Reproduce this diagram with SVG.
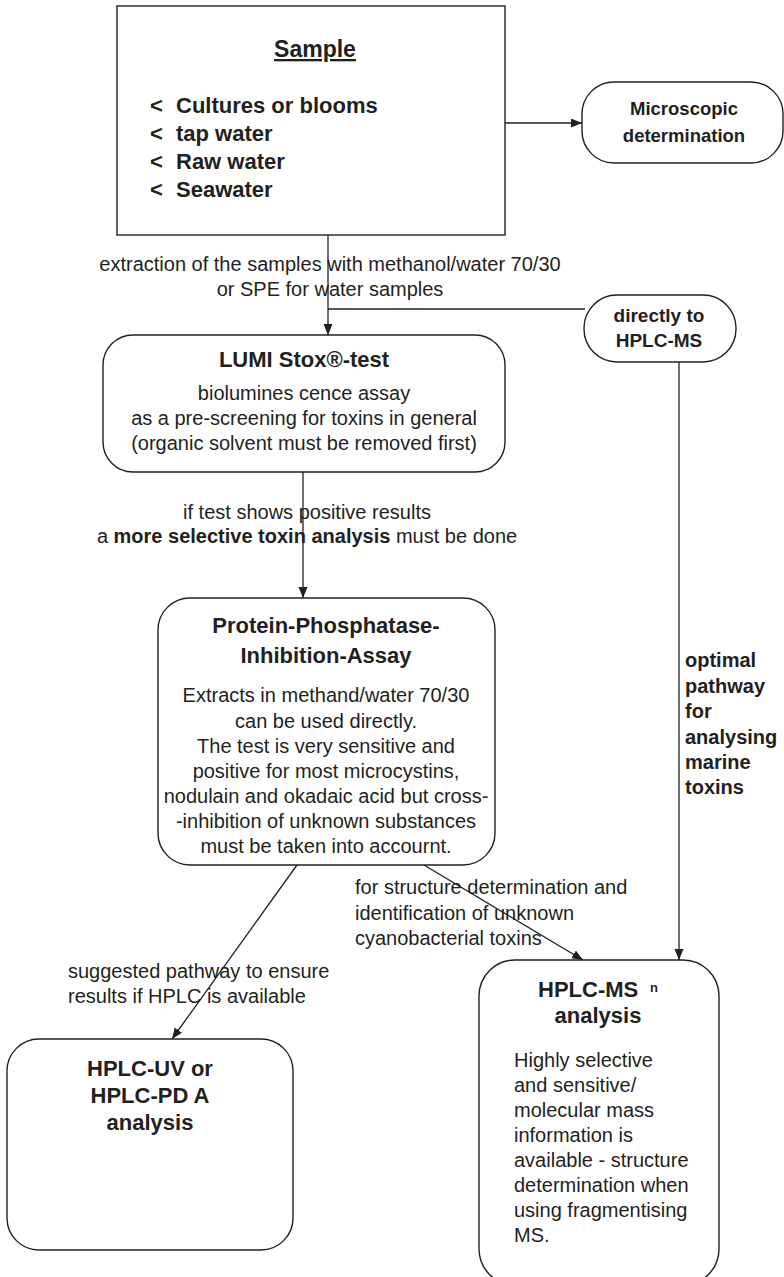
<svg xmlns="http://www.w3.org/2000/svg" width="784" height="1277" viewBox="0 0 784 1277">
  <style>
    .box { fill: #ffffff; stroke: #231f20; stroke-width: 1.4; }
    .link { fill: none; stroke: #231f20; stroke-width: 1.3; }
    text { font-family: "Liberation Sans", Arial, sans-serif; fill: #231f20; }
    .t { font-size: 20px; }
    .b { font-weight: bold; }
    .h { font-size: 22px; font-weight: bold; }
    .mid { text-anchor: middle; }
  </style>
  <defs>
    <marker id="arrow" markerUnits="userSpaceOnUse" markerWidth="12" markerHeight="10" refX="11" refY="4.5" orient="auto">
      <path d="M0,0 L11,4.5 L0,9 z" fill="#231f20"/>
    </marker>
  </defs>

  <rect width="784" height="1277" fill="#ffffff"/>

  <!-- connectors -->
  <g id="connectors">
    <line class="link" x1="505" y1="123" x2="582" y2="123" marker-end="url(#arrow)"/>
    <line class="link" x1="328" y1="235" x2="328" y2="335" marker-end="url(#arrow)"/>
    <line class="link" x1="328" y1="309" x2="585" y2="309"/>
    <line class="link" x1="679" y1="362" x2="679" y2="960" marker-end="url(#arrow)"/>
    <line class="link" x1="303" y1="472" x2="303" y2="598" marker-end="url(#arrow)"/>
    <line class="link" x1="297" y1="865" x2="172" y2="1039" marker-end="url(#arrow)"/>
    <line class="link" x1="424" y1="865" x2="583" y2="960" marker-end="url(#arrow)"/>

    <text class="t mid" x="330" y="271">extraction of the samples with methanol/water 70/30</text>
    <text class="t mid" x="330" y="296">or SPE for water samples</text>

    <text class="t mid" x="307" y="519">if test shows positive results</text>
    <text class="t mid" x="307" y="543">a <tspan class="b">more selective toxin analysis</tspan> must be done</text>

    <text class="t b" x="685" y="667">optimal</text>
    <text class="t b" x="685" y="693">pathway</text>
    <text class="t b" x="685" y="718">for</text>
    <text class="t b" x="685" y="744">analysing</text>
    <text class="t b" x="685" y="769">marine</text>
    <text class="t b" x="685" y="794">toxins</text>

    <text class="t" x="355" y="894">for structure determination and</text>
    <text class="t" x="355" y="920">identification of unknown</text>
    <text class="t" x="355" y="945">cyanobacterial toxins</text>

    <text class="t" x="68" y="978">suggested pathway to ensure</text>
    <text class="t" x="68" y="1003">results if HPLC is available</text>
  </g>

  <!-- sample -->
  <g id="sample">
    <rect class="box" x="117" y="6" width="388" height="229"/>
    <text class="mid b" x="315" y="57" font-size="23" text-decoration="underline">Sample</text>
    <g class="b" font-size="22">
      <text x="150" y="113">&lt;</text><text x="176" y="113">Cultures or blooms</text>
      <text x="150" y="141">&lt;</text><text x="176" y="141">tap water</text>
      <text x="150" y="169">&lt;</text><text x="176" y="169">Raw water</text>
      <text x="150" y="197">&lt;</text><text x="176" y="197">Seawater</text>
    </g>
  </g>

  <!-- microscopic determination -->
  <g id="microscopic">
    <rect class="box" x="582" y="82" width="201" height="81" rx="32" ry="32"/>
    <text class="mid b" x="684" y="115" font-size="18.5">Microscopic</text>
    <text class="mid b" x="684" y="142" font-size="18.5">determination</text>
  </g>

  <!-- directly to HPLC-MS -->
  <g id="direct">
    <rect class="box" x="584" y="295" width="152" height="67" rx="33" ry="33"/>
    <text class="mid b" x="659" y="322" font-size="19">directly to</text>
    <text class="mid b" x="659" y="347" font-size="19">HPLC-MS</text>
  </g>

  <!-- LUMIStox test -->
  <g id="lumistox">
    <rect class="box" x="103" y="335" width="402" height="137" rx="30" ry="30"/>
    <text class="h mid" x="304" y="367">LUMI Stox®-test</text>
    <text class="t mid" x="304" y="400">biolumines cence assay</text>
    <text class="t mid" x="304" y="425">as a pre-screening for toxins in general</text>
    <text class="t mid" x="304" y="450">(organic solvent must be removed first)</text>
  </g>

  <!-- protein phosphatase inhibition assay -->
  <g id="ppia">
    <rect class="box" x="158" y="598" width="337" height="267" rx="32" ry="32"/>
    <text class="h mid" x="326" y="633">Protein-Phosphatase-</text>
    <text class="h mid" x="326" y="663">Inhibition-Assay</text>
    <text class="t mid" x="326" y="702">Extracts in methand/water 70/30</text>
    <text class="t mid" x="326" y="728">can be used directly.</text>
    <text class="t mid" x="326" y="753">The test is very sensitive and</text>
    <text class="t mid" x="326" y="778">positive for most microcystins,</text>
    <text class="t mid" x="326" y="803">nodulain and okadaic acid but cross-</text>
    <text class="t mid" x="326" y="828">-inhibition of unknown substances</text>
    <text class="t mid" x="326" y="853">must be taken into accournt.</text>
  </g>

  <!-- HPLC-UV / HPLC-PDA -->
  <g id="hplc-uv">
    <rect class="box" x="7" y="1039" width="286" height="211" rx="32" ry="32"/>
    <text class="h mid" x="150" y="1076">HPLC-UV or</text>
    <text class="h mid" x="150" y="1103">HPLC-PD A</text>
    <text class="h mid" x="150" y="1130">analysis</text>
  </g>

  <!-- HPLC-MS^n -->
  <g id="hplc-ms">
    <rect class="box" x="479" y="960" width="240" height="325" rx="36" ry="36"/>
    <text class="h" x="538" y="997">HPLC-MS</text>
    <text class="b" x="650" y="992" font-size="13">n</text>
    <text class="h mid" x="598" y="1023">analysis</text>
    <text class="t" x="514" y="1067">Highly selective</text>
    <text class="t" x="514" y="1092">and sensitive/</text>
    <text class="t" x="514" y="1117">molecular mass</text>
    <text class="t" x="514" y="1142">information is</text>
    <text class="t" x="514" y="1167">available - structure</text>
    <text class="t" x="514" y="1192">determination when</text>
    <text class="t" x="514" y="1217">using fragmentising</text>
    <text class="t" x="514" y="1242">MS.</text>
  </g>
</svg>
